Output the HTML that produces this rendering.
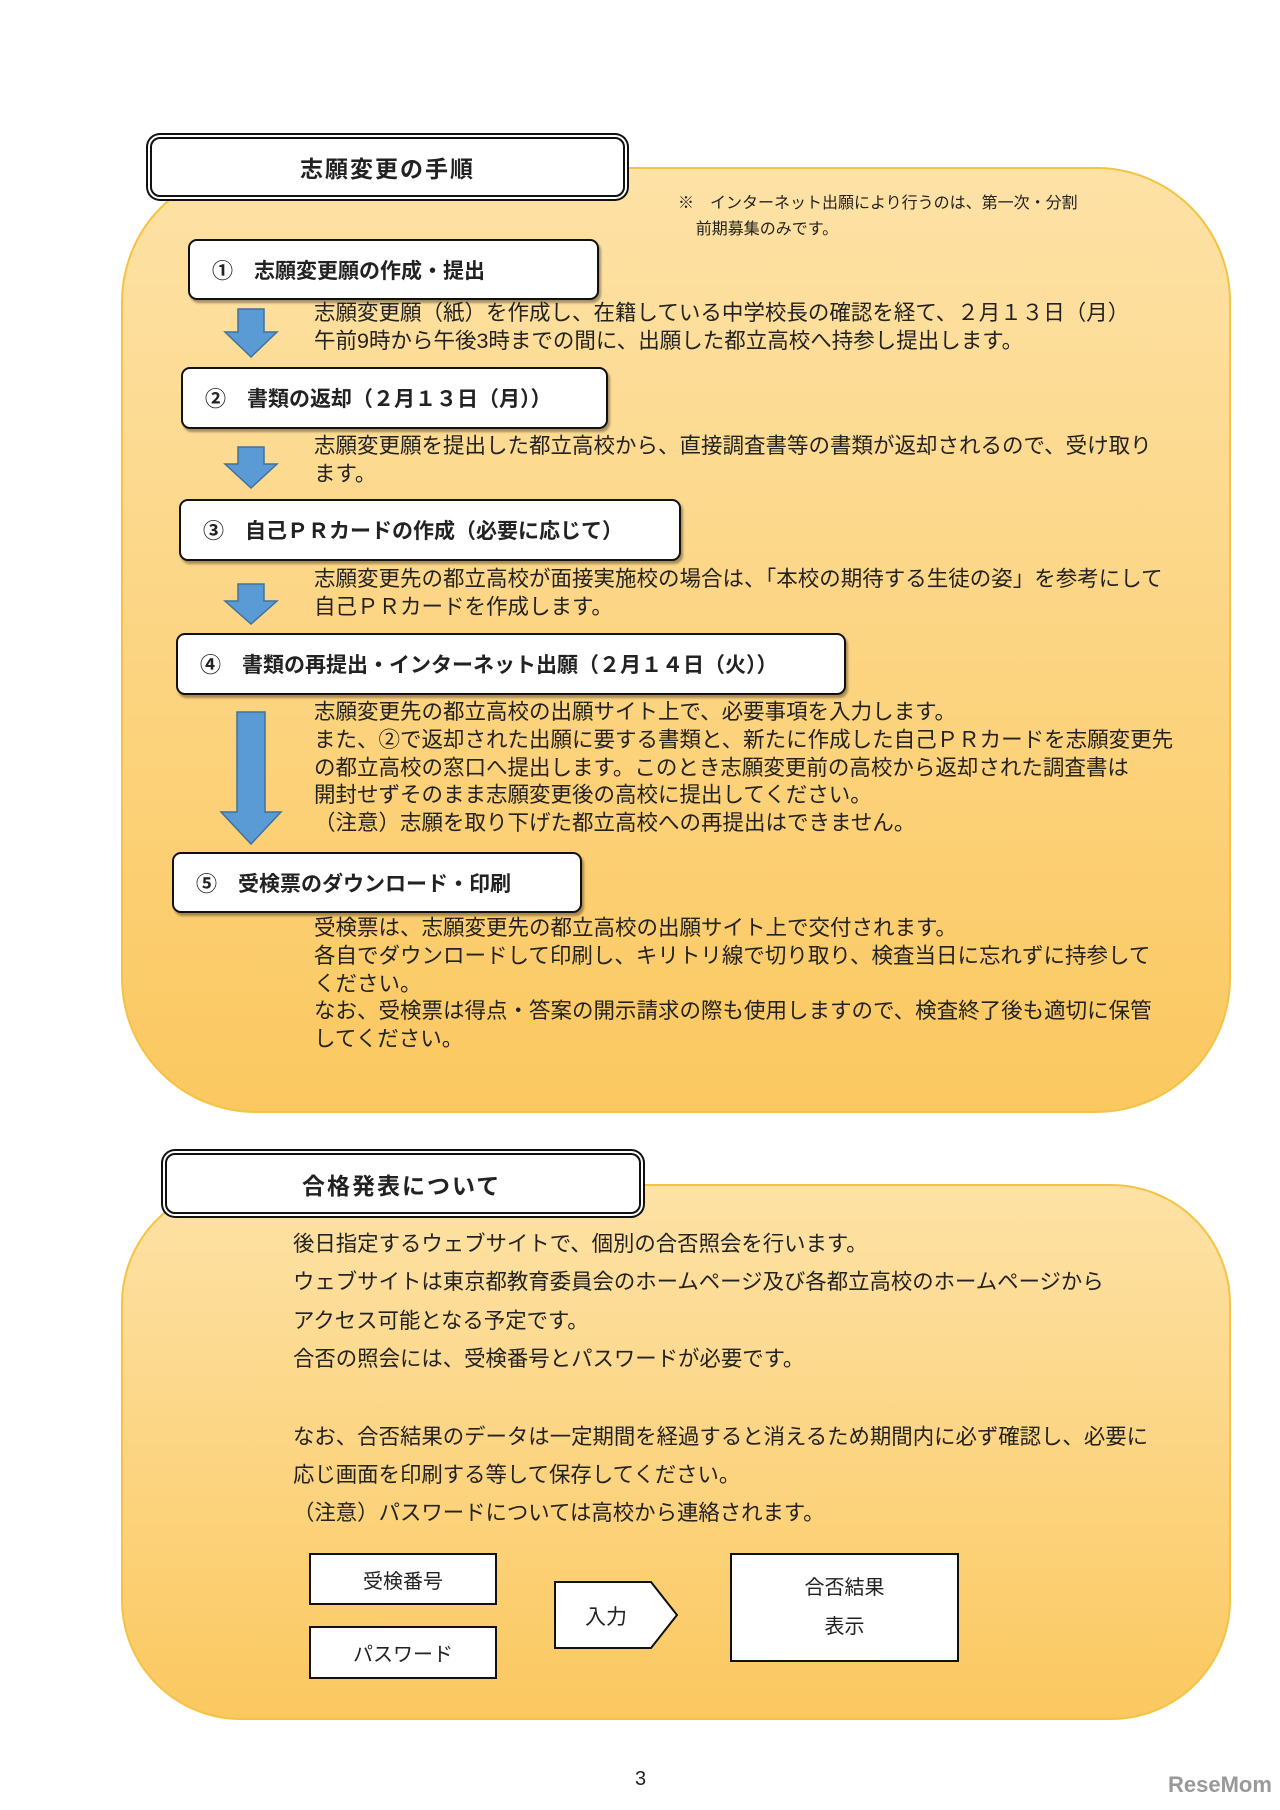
<!DOCTYPE html>
<html><head><meta charset="utf-8">
<style>
body{margin:0;width:1280px;height:1810px;background:#fff;position:relative;font-family:"Liberation Sans","Noto Sans CJK JP",sans-serif;color:#222;overflow:hidden}
.abs{position:absolute}
.panel{position:absolute;background:linear-gradient(#fde2a6,#fbc860);border:2px solid #f5c343;box-sizing:border-box}
.title{position:absolute;background:#fff;border:2px solid #111;border-radius:10px;box-sizing:border-box;box-shadow:0 0 0 2px #fff,0 0 0 4px #111;font-size:23px;font-weight:bold;letter-spacing:2px;display:flex;align-items:center}
.step{position:absolute;background:#fff;border:2px solid #111;border-radius:9px;box-sizing:border-box;box-shadow:2px 3px 2px rgba(0,0,0,.35);font-size:21px;font-weight:bold;display:flex;align-items:center;padding-left:22px;white-space:nowrap}
.txt{position:absolute;left:314px;font-size:21.5px;line-height:27.8px;white-space:nowrap}
.t2{position:absolute;left:293px;font-size:21.4px;white-space:nowrap}
.box{position:absolute;background:#fff;border:2px solid #111;box-sizing:border-box;font-size:20px;display:flex;align-items:center;justify-content:center;text-align:center}
</style></head><body>

<div class="panel" style="left:121px;top:167px;width:1110px;height:946px;border-radius:135px"></div>
<div class="title" style="left:150px;top:137px;width:475px;height:60px;padding-left:148px">志願変更の手順</div>
<div class="abs" style="left:678px;top:191px;font-size:16px;line-height:26px;white-space:nowrap">※　インターネット出願により行うのは、第一次・分割<br>&nbsp;&nbsp;&nbsp;&nbsp;前期募集のみです。</div>

<svg class="abs" style="left:0;top:0" width="1280" height="1150">
<g fill="#5b9bd5" stroke="#41719c" stroke-width="1.5">
<polygon points="238,309 264,309 264,332 277,332 251,357 225,332 238,332"/>
<polygon points="238,447 264,447 264,464 277,464 251,488 225,464 238,464"/>
<polygon points="238,584 264,584 264,601 277,601 251,624 225,601 238,601"/>
<polygon points="237,712 265,712 265,812 281,812 251,844 221,812 237,812"/>
</g></svg>

<div class="step" style="left:188px;top:239px;width:411px;height:61px">①　志願変更願の作成・提出</div>
<div class="txt" style="top:300px">志願変更願（紙）を作成し、在籍している中学校長の確認を経て、２月１３日（月）<br>午前9時から午後3時までの間に、出願した都立高校へ持参し提出します。</div>
<div class="step" style="left:181px;top:367px;width:427px;height:62px">②　書類の返却（２月１３日（月））</div>
<div class="txt" style="top:433px">志願変更願を提出した都立高校から、直接調査書等の書類が返却されるので、受け取り<br>ます。</div>
<div class="step" style="left:179px;top:499px;width:502px;height:62px">③　自己ＰＲカードの作成（必要に応じて）</div>
<div class="txt" style="top:566px">志願変更先の都立高校が面接実施校の場合は、「本校の期待する生徒の姿」を参考にして<br>自己ＰＲカードを作成します。</div>
<div class="step" style="left:176px;top:633px;width:670px;height:62px">④　書類の再提出・インターネット出願（２月１４日（火））</div>
<div class="txt" style="top:699px">志願変更先の都立高校の出願サイト上で、必要事項を入力します。<br>また、②で返却された出願に要する書類と、新たに作成した自己ＰＲカードを志願変更先<br>の都立高校の窓口へ提出します。このとき志願変更前の高校から返却された調査書は<br>開封せずそのまま志願変更後の高校に提出してください。<br>（注意）志願を取り下げた都立高校への再提出はできません。</div>
<div class="step" style="left:172px;top:852px;width:410px;height:61px">⑤　受検票のダウンロード・印刷</div>
<div class="txt" style="top:915px">受検票は、志願変更先の都立高校の出願サイト上で交付されます。<br>各自でダウンロードして印刷し、キリトリ線で切り取り、検査当日に忘れずに持参して<br>ください。<br>なお、受検票は得点・答案の開示請求の際も使用しますので、検査終了後も適切に保管<br>してください。</div>

<div class="panel" style="left:121px;top:1184px;width:1110px;height:536px;border-radius:120px"></div>
<div class="title" style="left:165px;top:1153px;width:476px;height:61px;padding-left:135px">合格発表について</div>
<div class="t2" style="top:1227px">後日指定するウェブサイトで、個別の合否照会を行います。</div>
<div class="t2" style="top:1265px">ウェブサイトは東京都教育委員会のホームページ及び各都立高校のホームページから</div>
<div class="t2" style="top:1304px">アクセス可能となる予定です。</div>
<div class="t2" style="top:1342px">合否の照会には、受検番号とパスワードが必要です。</div>
<div class="t2" style="top:1420px">なお、合否結果のデータは一定期間を経過すると消えるため期間内に必ず確認し、必要に</div>
<div class="t2" style="top:1458px">応じ画面を印刷する等して保存してください。</div>
<div class="t2" style="top:1496px">（注意）パスワードについては高校から連絡されます。</div>

<div class="box" style="left:309px;top:1553px;width:188px;height:52px">受検番号</div>
<div class="box" style="left:309px;top:1626px;width:188px;height:53px">パスワード</div>
<svg class="abs" style="left:553px;top:1580px" width="130" height="72"><polygon points="2,2 98,2 124,35 98,68 2,68" fill="#fff" stroke="#111" stroke-width="2"/><text x="32" y="44" font-size="21" font-family="Liberation Sans,Noto Sans CJK JP,sans-serif" fill="#222">入力</text></svg>
<div class="box" style="left:730px;top:1553px;width:229px;height:109px;line-height:39px">合否結果<br>表示</div>

<div class="abs" style="left:635px;top:1768px;font-size:20px">3</div>
<div class="abs" style="left:1168px;top:1772px;font-size:22px;font-weight:bold;color:#999">ReseMom</div>
</body></html>
